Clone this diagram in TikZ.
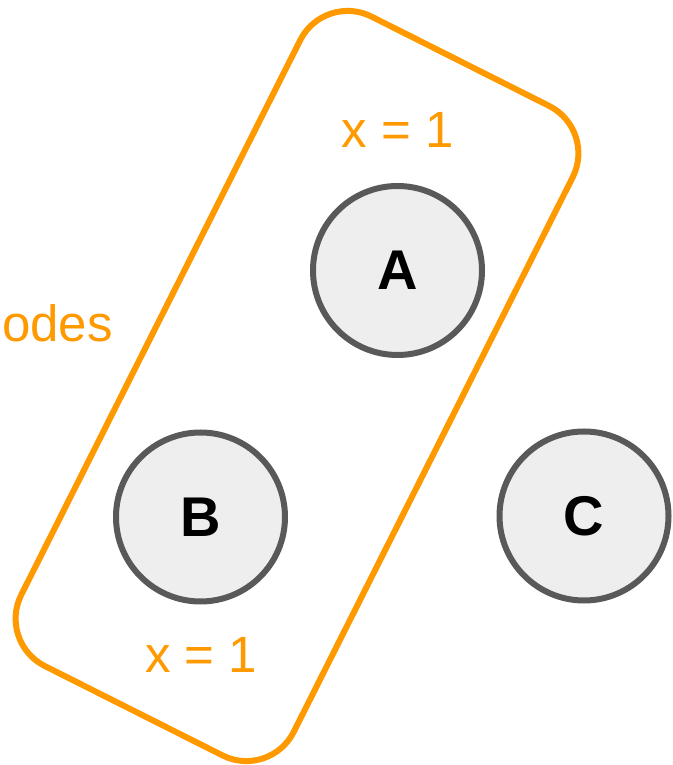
\documentclass[tikz,border=0pt]{standalone}
\usepackage{fontspec}
\setmainfont{Liberation Sans}
\usetikzlibrary{positioning}
\definecolor{setorange}{HTML}{FF9900}
\definecolor{nodegray}{HTML}{595959}
\definecolor{nodefill}{HTML}{EEEEEE}

\begin{document}
\begin{tikzpicture}[
  x=1pt, y=1pt,
  vertex/.style={circle, draw=nodegray, fill=nodefill, line width=6pt, minimum size=169pt, inner sep=0pt, font=\fontsize{56}{62}\selectfont\bfseries},
  group/.style={rectangle, draw=setorange, line width=6pt, rounded corners=53pt, minimum width=727pt, minimum height=305pt, inner sep=0pt},
  lbl/.style={text=setorange, inner sep=0pt, font=\fontsize{51}{60}\selectfont},
]
\useasboundingbox (0,0) rectangle (672,765);

\node[group, rotate=63.3] (set) at (297,379) {};

\node[vertex] (a) at (397.5,494.5) {A};
\node[vertex] (b) at (200.5,248) {B};
\node[vertex] (c) at (584,249) {C};

\node[lbl, anchor=base] (xa) at (397.5,617.3) {x = 1};
\node[lbl, anchor=base] (xb) at (201,92.3) {x = 1};
\node[lbl, anchor=base east] (title) at (113,423) {odes};

\end{tikzpicture}
\end{document}
